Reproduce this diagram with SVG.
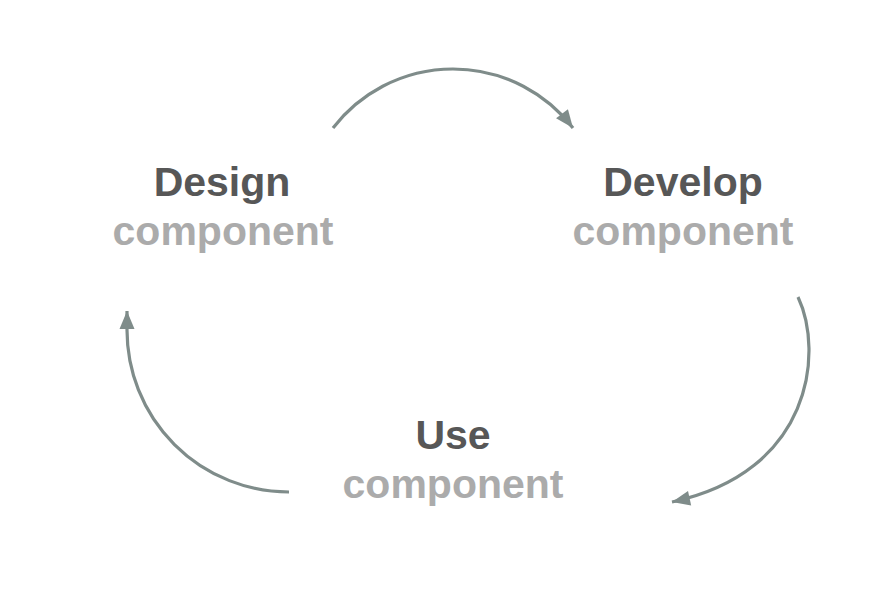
<svg xmlns="http://www.w3.org/2000/svg" width="880" height="593" viewBox="0 0 880 593">
<defs>
<marker id="ah" markerUnits="userSpaceOnUse" markerWidth="22" markerHeight="22" viewBox="0 0 22 22" refX="20" refY="11" orient="auto">
<path d="M2,3.5 L20,11 L2,18.5 Z" fill="#7f8c8a"/>
</marker>
<style>
.t{font-family:"Liberation Sans",Arial,Helvetica,sans-serif;font-weight:bold;font-size:41px;text-anchor:middle}
.a{fill:#575757}
.b{fill:#ababab}
.c{fill:none;stroke:#7f8c8a;stroke-width:3.2;stroke-linecap:butt}
</style>
</defs>
<rect width="880" height="593" fill="#ffffff"/>
<g id="connectors">
<path class="c" d="M333,128 A151.5,151.5 0 0 1 573,128" marker-end="url(#ah)"/>
<path class="c" d="M798,297 C824,352 812,472 672,502" marker-end="url(#ah)"/>
<path class="c" d="M289,492 A162,162 0 0 1 127,330 L127,311" marker-end="url(#ah)"/>
</g>
<g id="design">
<text class="t a" x="222" y="196">Design</text>
<text class="t b" x="223" y="245">component</text>
</g>
<g id="develop">
<text class="t a" x="683" y="196">Develop</text>
<text class="t b" x="683" y="245">component</text>
</g>
<g id="use">
<text class="t a" x="453" y="449">Use</text>
<text class="t b" x="453" y="498">component</text>
</g>
</svg>
